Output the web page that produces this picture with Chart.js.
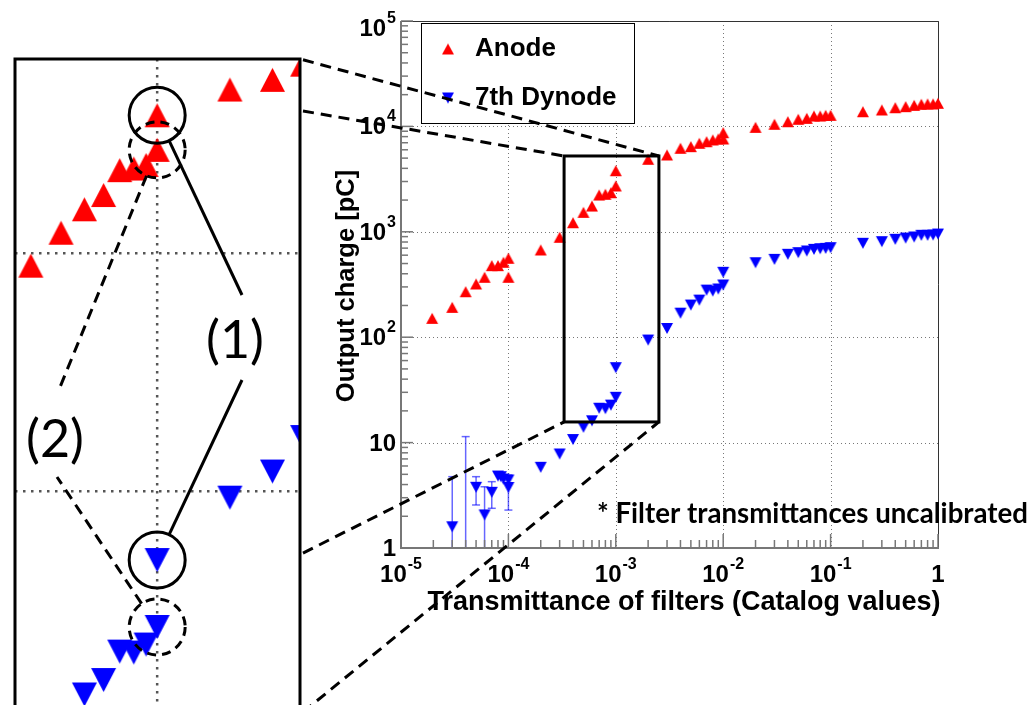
<!DOCTYPE html>
<html>
<head>
<meta charset="utf-8">
<script src="https://cdn.jsdelivr.net/npm/chart.js@4"></script>
<style>
	body { margin: 0; overflow: hidden; background: #fff; }
	canvas { position: absolute; left: 0; top: 0; }
</style>
</head>
<body>
<canvas id="graficoZoom" width="320" height="800"></canvas>
<canvas id="graficoCarga" width="1032" height="705"></canvas>
<canvas id="anotaciones" width="1032" height="705"></canvas>
<script>
//Datos
const anodeX = [1.95e-5, 3e-5, 4e-5, 5e-5, 6e-5, 7e-5, 8e-5, 9e-5, 1e-4, 1e-4,
	2e-4, 3e-4, 4e-4, 5e-4, 6e-4, 7e-4, 8e-4, 9e-4, 1e-3, 1e-3,
	2e-3, 3e-3, 4e-3, 5e-3, 6e-3, 7e-3, 8e-3, 9e-3, 1e-2, 1e-2,
	2e-2, 3e-2, 4e-2, 5e-2, 6e-2, 7e-2, 8e-2, 9e-2, 0.1,
	0.2, 0.3, 0.4, 0.5, 0.6, 0.7, 0.8, 0.9, 1];
const anodeQ = [151, 192, 270, 320, 370, 477, 477, 514, 561, 370,
	672, 887, 1220, 1530, 1757, 2234, 2270, 2350, 2720, 3800,
	4875, 5355, 6200, 6420, 6915, 7160, 7430, 7600, 8710, 7600,
	9800, 10470, 11080, 11680, 11930, 12550, 12550, 12740, 12740,
	13780, 14310, 15050, 15390, 15850, 16220, 16320, 16320, 16560];

const dynodeX = [3e-5, 4e-5, 5e-5, 6e-5, 7e-5, 8e-5, 8.5e-5, 9e-5, 1e-4, 1e-4,
	2e-4, 3e-4, 4e-4, 5e-4, 6e-4, 7e-4, 8e-4, 9e-4, 1e-3, 1e-3,
	2e-3, 3e-3, 4e-3, 5e-3, 6e-3, 7e-3, 8e-3, 9e-3, 1e-2, 1e-2,
	2e-2, 3e-2, 4e-2, 5e-2, 6e-2, 7e-2, 8e-2, 9e-2, 0.1,
	0.2, 0.3, 0.4, 0.5, 0.6, 0.7, 0.8, 0.9, 1];
const dynodeQ = [1.59, 0.6, 3.77, 2.06, 3.38, 4.82, 4.75, 4.52, 4.42, 3.75,
	5.83, 7.8, 10.7, 14.0, 16.1, 21.2, 21, 22.7, 26.9, 51.4,
	94, 121, 169, 202, 225, 280, 274, 287, 313, 413,
	509, 548, 612, 634, 658, 682, 691, 697, 707,
	778, 806, 849, 873, 893, 927, 927, 933, 953];
// barras de error (solo los puntos de baja carga)
const dynodeErrLow = [0.5, 0.1, 2.56, 0.5, 2.38, null, null, null, null, 2.29];
const dynodeErrHigh = [4.75, 11.4, 4.75, 3.81, 4.26, null, null, null, null, 4.93];

const xTicks = [1e-5, 1e-4, 1e-3, 1e-2, 1e-1, 1];
const xTickLabels = ['10^-5', '10^-4', '10^-3', '10^-2', '10^-1', '1'];
const yTicks = [1, 10, 100, 1e3, 1e4, 1e5];
const yTickLabels = ['1', '10', '10^2', '10^3', '10^4', '10^5'];

// recuadro de la ampliacion y rango del panel ampliado
const boxX = [3.3e-4, 2.52e-3];
const boxY = [15.7, 5240];
const zoomX = [2.58e-4, 3.9e-3];
const zoomY = [6.3, 6550];
// alturas (en carga) donde salen las lineas de union del panel
const zoomAnchors = [6500, 3960, 55, 11.8];

const fam = "'Liberation Sans', Arial, Helvetica, sans-serif";
const famNota = "Lato, 'Open Sans', sans-serif";

function puntos(xs, ys) {
	return xs.map((x, i) => ({ x: x, y: ys[i] }));
}

// triangulo centrado en su caja, como los marcadores de ROOT
function triangulo(w, h, color, abajo) {
	const c = document.createElement('canvas');
	c.width = w + 2;
	c.height = h + 2;
	const ctx = c.getContext('2d');
	ctx.fillStyle = color;
	ctx.beginPath();
	if (abajo) {
		ctx.moveTo(1, 1); ctx.lineTo(w + 1, 1); ctx.lineTo(w / 2 + 1, h + 1);
	} else {
		ctx.moveTo(1, h + 1); ctx.lineTo(w + 1, h + 1); ctx.lineTo(w / 2 + 1, 1);
	}
	ctx.closePath();
	ctx.fill();
	return c;
}

const rojoChico = triangulo(12, 11, '#ff0000', false);
const azulChico = triangulo(12, 11, '#0000ff', true);
const rojoGrande = triangulo(25, 24, '#ff0000', false);
const azulGrande = triangulo(25, 24, '#0000ff', true);

function lineaPunteada(ctx, x0, y0, x1, y1) {
	ctx.beginPath();
	ctx.moveTo(x0, y0);
	ctx.lineTo(x1, y1);
	ctx.stroke();
}

// etiqueta tipo 10^-3 con exponente
function etiqueta(ctx, texto, x, y, align) {
	const partes = texto.split('^');
	ctx.font = 'bold 24px ' + fam;
	const wb = ctx.measureText(partes[0]).width;
	ctx.font = 'bold 16px ' + fam;
	const we = partes[1] ? ctx.measureText(partes[1]).width + 1 : 0;
	const x0 = align === 'center' ? x - (wb + we) / 2 : x - (wb + we);
	ctx.textAlign = 'left';
	ctx.textBaseline = 'alphabetic';
	ctx.font = 'bold 24px ' + fam;
	ctx.fillText(partes[0], x0, y);
	if (partes[1]) {
		ctx.font = 'bold 16px ' + fam;
		ctx.fillText(partes[1], x0 + wb + 1, y - 13);
	}
}

const ejesPlugin = {
	id: 'ejes',
	beforeDatasetsDraw(chart) {
		const { ctx, chartArea: a, scales: { x, y } } = chart;
		ctx.save();
		// grilla punteada en las decadas
		ctx.strokeStyle = '#777';
		ctx.lineWidth = 1;
		ctx.setLineDash([1, 3]);
		xTicks.forEach(v => {
			const px = Math.round(x.getPixelForValue(v)) + 0.5;
			lineaPunteada(ctx, px, a.top, px, a.bottom);
		});
		yTicks.forEach(v => {
			const py = Math.round(y.getPixelForValue(v)) + 0.5;
			lineaPunteada(ctx, a.left, py, a.right, py);
		});
		ctx.setLineDash([]);

		// leyenda
		ctx.fillStyle = '#fff';
		ctx.fillRect(421, 23, 213, 100);
		ctx.strokeStyle = '#000';
		ctx.lineWidth = 1;
		ctx.strokeRect(421.5, 23.5, 213, 100);
		ctx.drawImage(rojoChico, 448 - rojoChico.width / 2, 49 - rojoChico.height / 2);
		ctx.drawImage(azulChico, 448 - azulChico.width / 2, 98 - azulChico.height / 2);
		ctx.fillStyle = '#000';
		ctx.font = 'bold 26px ' + fam;
		ctx.textAlign = 'left';
		ctx.textBaseline = 'middle';
		ctx.fillText(chart.data.datasets[0].label, 475, 49);
		ctx.fillText(chart.data.datasets[1].label, 475, 98);

		// barras de error
		ctx.save();
		ctx.beginPath();
		ctx.rect(a.left, a.top, a.right - a.left, a.bottom - a.top);
		ctx.clip();
		ctx.strokeStyle = 'rgba(0, 0, 255, 0.6)';
		ctx.lineWidth = 1.5;
		dynodeErrHigh.forEach((hi, i) => {
			if (hi == null) return;
			const lo = dynodeErrLow[i];
			const px = x.getPixelForValue(dynodeX[i]);
			const yh = y.getPixelForValue(hi);
			const yl = y.getPixelForValue(lo);
			lineaPunteada(ctx, px, yh, px, yl);
			if (hi < y.max) lineaPunteada(ctx, px - 4, yh, px + 4, yh);
			if (lo > y.min) lineaPunteada(ctx, px - 4, yl, px + 4, yl);
		});
		ctx.restore();

		// marco
		ctx.strokeStyle = '#333';
		ctx.lineWidth = 1;
		ctx.beginPath();
		ctx.moveTo(a.left, a.top + 0.5);
		ctx.lineTo(a.right + 0.5, a.top + 0.5);
		ctx.lineTo(a.right + 0.5, a.bottom);
		ctx.stroke();
		ctx.strokeStyle = '#777';
		ctx.lineWidth = 2;
		ctx.beginPath();
		ctx.moveTo(a.left, a.top);
		ctx.lineTo(a.left, a.bottom);
		ctx.lineTo(a.right + 1, a.bottom);
		ctx.stroke();

		// marcas mayores y menores
		ctx.lineWidth = 1.5;
		xTicks.forEach((v, k) => {
			for (let m = 1; m < 10; m++) {
				if (k === xTicks.length - 1 && m > 1) break;
				const px = x.getPixelForValue(v * m);
				lineaPunteada(ctx, px, a.bottom, px, a.bottom - (m === 1 ? 14 : 8));
			}
		});
		yTicks.forEach((v, k) => {
			for (let m = 1; m < 10; m++) {
				if (k === yTicks.length - 1 && m > 1) break;
				const py = y.getPixelForValue(v * m);
				lineaPunteada(ctx, a.left, py, a.left + (m === 1 ? 12 : 7), py);
			}
		});

		// rotulos
		ctx.fillStyle = '#000';
		xTicks.forEach((v, k) => etiqueta(ctx, xTickLabels[k], x.getPixelForValue(v), 582, 'center'));
		yTicks.forEach((v, k) => etiqueta(ctx, yTickLabels[k], 396, Math.max(y.getPixelForValue(v) + 8, 36), 'right'));

		ctx.font = 'bold 27px ' + fam;
		ctx.textAlign = 'center';
		ctx.textBaseline = 'alphabetic';
		ctx.fillText('Transmittance of filters (Catalog values)', 684, 610);
		ctx.font = 'bold 25.5px ' + fam;
		ctx.save();
		ctx.translate(354, 286);
		ctx.rotate(-Math.PI / 2);
		ctx.fillText('Output charge [pC]', 0, 0);
		ctx.restore();
		ctx.restore();
	}
};

const graficoCarga = new Chart(document.getElementById('graficoCarga'), {
	type: 'scatter',
	data: {
		datasets: [{
			label: 'Anode',
			data: puntos(anodeX, anodeQ),
			pointStyle: rojoChico,
			pointRadius: 6,
			clip: { left: 10, top: 10, right: 10, bottom: 0 }
		}, {
			label: '7th Dynode',
			data: puntos(dynodeX, dynodeQ),
			pointStyle: azulChico,
			pointRadius: 6,
			clip: { left: 10, top: 10, right: 10, bottom: 0 }
		}]
	},
	options: {
		responsive: false,
		animation: false,
		events: [],
		layout: { padding: { left: 401, top: 21, right: 94, bottom: 157 } },
		plugins: { legend: { display: false }, tooltip: { enabled: false } },
		scales: {
			x: { type: 'logarithmic', min: 1e-5, max: 1, display: false },
			y: { type: 'logarithmic', min: 1, max: 1e5, display: false }
		}
	},
	plugins: [ejesPlugin]
});

//Panel ampliado
const zoomPlugin = {
	id: 'zoomPanel',
	beforeDatasetsDraw(chart) {
		const { ctx, chartArea: a, scales: { x, y } } = chart;
		ctx.save();
		ctx.strokeStyle = '#555';
		ctx.lineWidth = 2.5;
		ctx.setLineDash([2.5, 5.5]);
		xTicks.filter(v => v > x.min && v < x.max).forEach(v => {
			const px = x.getPixelForValue(v);
			lineaPunteada(ctx, px, a.top, px, a.bottom);
		});
		yTicks.filter(v => v > y.min && v < y.max).forEach(v => {
			const py = y.getPixelForValue(v);
			lineaPunteada(ctx, a.left, py, a.right, py);
		});
		ctx.restore();
	},
	afterDatasetsDraw(chart) {
		const { ctx, chartArea: a } = chart;
		ctx.save();
		ctx.strokeStyle = '#000';
		ctx.lineWidth = 3;
		ctx.strokeRect(a.left, a.top, a.right - a.left, a.bottom - a.top);
		ctx.restore();
	}
};

const graficoZoom = new Chart(document.getElementById('graficoZoom'), {
	type: 'scatter',
	data: {
		datasets: [{
			data: puntos(anodeX, anodeQ),
			pointStyle: rojoGrande,
			pointRadius: 12,
			clip: 0
		}, {
			data: puntos(dynodeX, dynodeQ),
			pointStyle: azulGrande,
			pointRadius: 12,
			clip: 0
		}]
	},
	options: {
		responsive: false,
		animation: false,
		events: [],
		layout: { padding: { left: 15, top: 59, right: 20, bottom: 23 } },
		plugins: { legend: { display: false }, tooltip: { enabled: false } },
		scales: {
			x: { type: 'logarithmic', min: zoomX[0], max: zoomX[1], display: false },
			y: { type: 'logarithmic', min: zoomY[0], max: zoomY[1], display: false }
		}
	},
	plugins: [zoomPlugin]
});

//Anotaciones: recuadro, lineas de union, circulos (1) y (2)
function dibujarAnotaciones() {
	const ctx = document.getElementById('anotaciones').getContext('2d');
	const mx = graficoCarga.scales.x, my = graficoCarga.scales.y;
	const zx = graficoZoom.scales.x, zy = graficoZoom.scales.y;

	const bx0 = mx.getPixelForValue(boxX[0]), bx1 = mx.getPixelForValue(boxX[1]);
	const by0 = my.getPixelForValue(boxY[1]), by1 = my.getPixelForValue(boxY[0]);
	ctx.strokeStyle = '#000';
	ctx.lineWidth = 3;
	ctx.strokeRect(bx0, by0, bx1 - bx0, by1 - by0);

	const zr = graficoZoom.chartArea.right + 3;
	const destinos = [[bx1, by0], [bx0, by0], [bx0, by1], [bx1, by1]];
	ctx.setLineDash([11, 7]);
	zoomAnchors.forEach((q, i) => {
		lineaPunteada(ctx, zr, zy.getPixelForValue(q), destinos[i][0], destinos[i][1]);
	});

	// circulos sobre los puntos de 1e-3
	const r = 28;
	const cA = [zx.getPixelForValue(anodeX[19]), zy.getPixelForValue(anodeQ[19])];
	const cC = [zx.getPixelForValue(anodeX[18]), zy.getPixelForValue(anodeQ[18])];
	const cB = [zx.getPixelForValue(dynodeX[19]), zy.getPixelForValue(dynodeQ[19])];
	const cD = [zx.getPixelForValue(dynodeX[18]), zy.getPixelForValue(dynodeQ[18])];

	function circulo(c, dash) {
		ctx.setLineDash(dash);
		ctx.beginPath();
		ctx.arc(c[0], c[1], r, 0, Math.PI * 2);
		ctx.stroke();
	}
	function desdeCirculo(c, p, dash) {
		const dx = p[0] - c[0], dy = p[1] - c[1];
		const d = Math.hypot(dx, dy);
		ctx.setLineDash(dash);
		lineaPunteada(ctx, c[0] + dx / d * r, c[1] + dy / d * r, p[0], p[1]);
	}
	ctx.lineWidth = 3;
	circulo(cA, []);
	circulo(cB, []);
	circulo(cC, [9, 6]);
	circulo(cD, [9, 6]);
	desdeCirculo(cA, [242, 295], []);
	desdeCirculo(cB, [242, 380], []);
	desdeCirculo(cC, [58, 392], [11, 7]);
	desdeCirculo(cD, [57, 477], [11, 7]);
	ctx.setLineDash([]);

	ctx.fillStyle = '#000';
	ctx.textAlign = 'center';
	ctx.textBaseline = 'middle';
	ctx.font = '52px ' + famNota;
	ctx.fillText('(1)', 235, 341);
	ctx.fillText('(2)', 55, 440);

	// nota
	const nota = '* Filter transmittances uncalibrated';
	ctx.font = 'bold 26px ' + famNota;
	const w = ctx.measureText(nota).width;
	ctx.font = 'bold ' + (26 * 431 / w).toFixed(2) + 'px ' + famNota;
	ctx.textAlign = 'left';
	ctx.fillText(nota, 597, 514);
}
dibujarAnotaciones();
</script>
</body>
</html>
